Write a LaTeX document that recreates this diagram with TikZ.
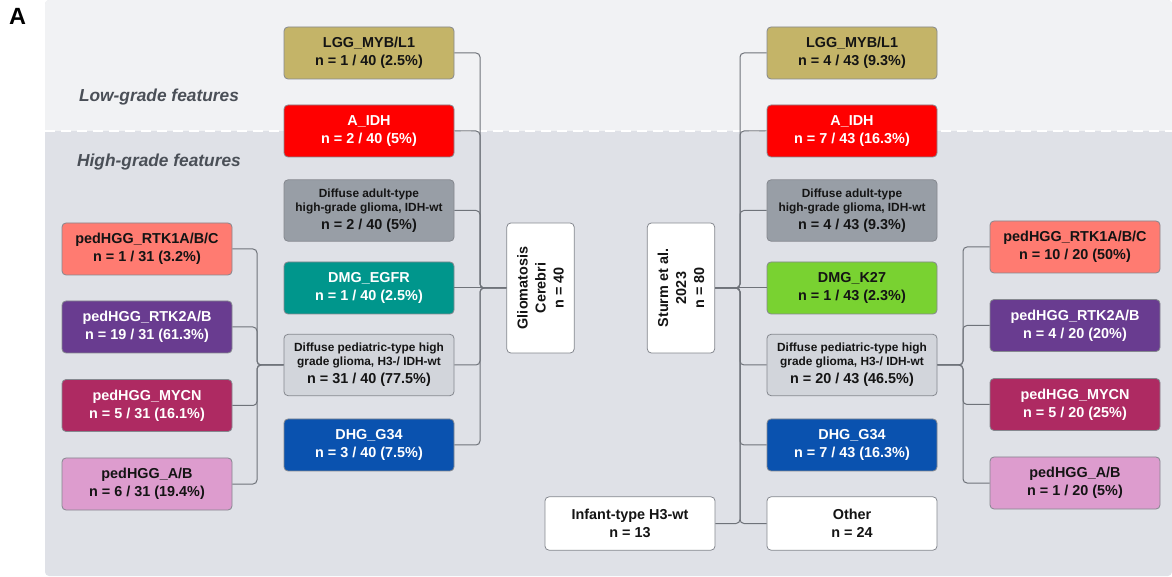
\documentclass[tikz,border=0pt]{standalone}
\usepackage{fontspec}
\setmainfont{Liberation Sans}
\usetikzlibrary{positioning}
\definecolor{lowbg}{HTML}{F1F2F4}
\definecolor{highbg}{HTML}{DFE1E7}
\definecolor{boxline}{HTML}{85888F}
\definecolor{linecol}{HTML}{6F737A}
\definecolor{labelcol}{HTML}{4A4F57}
\definecolor{lggcol}{HTML}{C4B468}
\definecolor{idhcol}{HTML}{FF0000}
\definecolor{adultcol}{HTML}{989EA6}
\definecolor{egfrcol}{HTML}{00968C}
\definecolor{pedcol}{HTML}{D2D5DB}
\definecolor{gcol}{HTML}{0A52AF}
\definecolor{kcol}{HTML}{79D231}
\definecolor{rtkonecol}{HTML}{FF7B71}
\definecolor{rtktwocol}{HTML}{693C90}
\definecolor{mycncol}{HTML}{AE2A62}
\definecolor{abcol}{HTML}{DD9CCE}
\newcommand{\smalltxt}{\fontsize{8.9}{10.5}\selectfont}
\tikzset{
    grp/.style={rectangle, rounded corners=3pt, draw=boxline, line width=0.6pt,
        minimum width=127.5pt, minimum height=39pt, inner sep=0pt, align=center,
        text=black!92, font=\bfseries\fontsize{10.8}{13.5}\selectfont}, % every subgroup box
    tall/.style={grp, minimum height=46pt},
    lighttext/.style={text=white},
    cohort/.style={grp, fill=white, rotate=90, minimum width=97.5pt, minimum height=50.5pt},
    link/.style={draw=linecol, line width=0.75pt, rounded corners=3pt},
    band/.style={text=labelcol, font=\bfseries\itshape\fontsize{13}{15}\selectfont, anchor=base}
}

\begin{document}
\begin{tikzpicture}[x=0.75pt, y=-0.75pt]
        \useasboundingbox (0,0) rectangle (1172,577);

        % panel
        \fill[highbg, rounded corners=3pt] (45,0) rectangle (1172,576);
        \begin{scope}
            \clip (45,0) rectangle (1172,131);
            \fill[lowbg, rounded corners=3pt] (45,0) rectangle (1172,576);
        \end{scope}
        \draw[white, line width=1pt, dash pattern=on 7.5pt off 4.5pt] (45,131) -- (1172,131);

        \node[font=\bfseries\fontsize{17.6}{20}\selectfont, inner sep=0pt] (panelA) at (17.5,16.5) {A};
        \node[band] (lowlab) at (159,102) {Low-grade features};
        \node[band] (highlab) at (159,167) {High-grade features};

        % Gliomatosis cerebri
        \node[grp, fill=lggcol] (lgg1) at (369,53) {LGG\_MYB/L1\\n = 1 / 40 (2.5\%)};
        \node[grp, fill=idhcol, lighttext] (idh1) at (369,131) {A\_IDH\\n = 2 / 40 (5\%)};
        \node[tall, fill=adultcol] (adult1) at (369,210.5) {{\smalltxt Diffuse adult-type}\\[-3pt]{\smalltxt high-grade glioma, IDH-wt}\\n = 2 / 40 (5\%)};
        \node[grp, fill=egfrcol, lighttext] (egfr1) at (369,288) {DMG\_EGFR\\n = 1 / 40 (2.5\%)};
        \node[tall, fill=pedcol] (ped1) at (369,365) {{\smalltxt Diffuse pediatric-type high}\\[-3pt]{\smalltxt grade glioma, H3-/ IDH-wt}\\n = 31 / 40 (77.5\%)};
        \node[grp, fill=gcol, lighttext] (g34a) at (369,445) {DHG\_G34\\n = 3 / 40 (7.5\%)};
        \node[cohort] (glio) at (540.5,288) {Gliomatosis\\Cerebri\\n = 40};

        \node[grp, fill=rtkonecol] (rtkA1) at (147,249) {pedHGG\_RTK1A/B/C\\n = 1 / 31 (3.2\%)};
        \node[grp, fill=rtktwocol, lighttext] (rtkA2) at (147,327) {pedHGG\_RTK2A/B\\n = 19 / 31 (61.3\%)};
        \node[grp, fill=mycncol, lighttext] (mycnA) at (147,405.5) {pedHGG\_MYCN\\n = 5 / 31 (16.1\%)};
        \node[grp, fill=abcol] (abA) at (147,484) {pedHGG\_A/B\\n = 6 / 31 (19.4\%)};

        % Sturm et al.
        \node[cohort] (sturm) at (681,288) {Sturm et al.\\2023\\n = 80};
        \node[grp, fill=lggcol] (lgg2) at (852,53) {LGG\_MYB/L1\\n = 4 / 43 (9.3\%)};
        \node[grp, fill=idhcol, lighttext] (idh2) at (852,131) {A\_IDH\\n = 7 / 43 (16.3\%)};
        \node[tall, fill=adultcol] (adult2) at (852,210.5) {{\smalltxt Diffuse adult-type}\\[-3pt]{\smalltxt high-grade glioma, IDH-wt}\\n = 4 / 43 (9.3\%)};
        \node[grp, fill=kcol] (k27) at (852,288) {DMG\_K27\\n = 1 / 43 (2.3\%)};
        \node[tall, fill=pedcol] (ped2) at (852,365) {{\smalltxt Diffuse pediatric-type high}\\[-3pt]{\smalltxt grade glioma, H3-/ IDH-wt}\\n = 20 / 43 (46.5\%)};
        \node[grp, fill=gcol, lighttext] (g34b) at (852,445) {DHG\_G34\\n = 7 / 43 (16.3\%)};
        \node[grp, fill=white, minimum height=40pt] (other) at (852,523.5) {Other\\n = 24};
        \node[grp, fill=white, minimum height=40pt] (infant) at (630,523.5) {Infant-type H3-wt\\n = 13};

        \node[grp, fill=rtkonecol] (rtkB1) at (1075,247) {pedHGG\_RTK1A/B/C\\n = 10 / 20 (50\%)};
        \node[grp, fill=rtktwocol, lighttext] (rtkB2) at (1075,325.5) {pedHGG\_RTK2A/B\\n = 4 / 20 (20\%)};
        \node[grp, fill=mycncol, lighttext] (mycnB) at (1075,404.5) {pedHGG\_MYCN\\n = 5 / 20 (25\%)};
        \node[grp, fill=abcol] (abB) at (1075,483) {pedHGG\_A/B\\n = 1 / 20 (5\%)};

        % junctions
        \coordinate (jglio) at (480,288);
        \coordinate (jsturm) at (740,288);
        \coordinate (jpedA) at (257,365);
        \coordinate (jpedB) at (963,365);

        \draw[link] (lgg1.east) -| (jglio) -- (glio.north);
        \draw[link] (idh1.east) -| (jglio) -- (glio.north);
        \draw[link] (adult1.east) -| (jglio) -- (glio.north);
        \draw[link] (egfr1.east) -- (glio.north);
        \draw[link] (ped1.east) -| (jglio) -- (glio.north);
        \draw[link] (g34a.east) -| (jglio) -- (glio.north);

        \draw[link] (rtkA1.east) -| (jpedA) -- (ped1.west);
        \draw[link] (rtkA2.east) -| (jpedA) -- (ped1.west);
        \draw[link] (mycnA.east) -| (jpedA) -- (ped1.west);
        \draw[link] (abA.east) -| (jpedA) -- (ped1.west);

        \draw[link] (sturm.south) -- (jsturm) |- (lgg2.west);
        \draw[link] (sturm.south) -- (jsturm) |- (idh2.west);
        \draw[link] (sturm.south) -- (jsturm) |- (adult2.west);
        \draw[link] (sturm.south) -- (k27.west);
        \draw[link] (sturm.south) -- (jsturm) |- (ped2.west);
        \draw[link] (sturm.south) -- (jsturm) |- (g34b.west);
        \draw[link] (sturm.south) -- (jsturm) |- (other.west);
        \draw[link] (sturm.south) -- (jsturm) |- (infant.east);

        \draw[link] (ped2.east) -- (jpedB) |- (rtkB1.west);
        \draw[link] (ped2.east) -- (jpedB) |- (rtkB2.west);
        \draw[link] (ped2.east) -- (jpedB) |- (mycnB.west);
        \draw[link] (ped2.east) -- (jpedB) |- (abB.west);
    \end{tikzpicture}
\end{document}
